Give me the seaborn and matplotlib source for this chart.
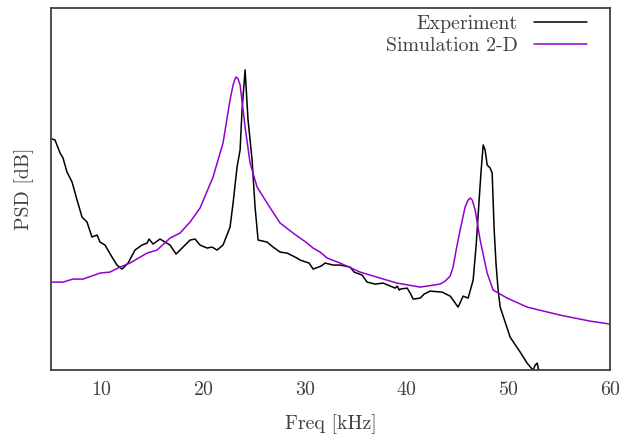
import numpy as np
import pandas as pd
import matplotlib
matplotlib.use("Agg")
import matplotlib.pyplot as plt
import seaborn as sns

# Experiment PSD (arbitrary dB)
exp_freq = [5.10, 5.39, 5.89, 6.18, 6.57, 7.07, 7.56, 8.05, 8.54, 9.03, 9.53, 9.82,
            10.31, 11.00, 11.49, 11.99, 12.58, 13.26, 13.95, 14.45, 14.64, 15.04,
            15.72, 16.71, 17.30, 17.99, 18.68, 19.17, 19.66, 20.35, 20.84, 21.33,
            21.92, 22.61, 22.91, 23.30, 23.60, 23.79, 24.09, 24.38, 24.78, 25.07,
            25.37, 26.25, 26.84, 27.53, 28.22, 29.20, 29.50, 30.39, 30.78, 31.57,
            31.96, 32.75, 33.44, 34.42, 34.81, 35.60, 36.09, 36.88, 37.67, 38.85,
            39.05, 39.25, 39.34, 40.03, 40.33, 40.62, 41.31, 41.70, 42.29, 43.47,
            44.26, 44.55, 45.04, 45.54, 46.03, 46.52, 46.82, 47.11, 47.31, 47.51,
            47.70, 47.90, 48.19, 48.39, 48.59, 48.78, 48.98, 49.18, 50.16, 51.15,
            51.83, 52.42, 52.62, 52.82, 53.01]
exp_psd = [-53.8, -54.0, -56.6, -57.6, -60.4, -62.4, -66.0, -69.4, -70.4, -73.4, -73.0, -74.4,
           -75.0, -77.4, -79.0, -79.8, -78.6, -76.0, -75.0, -74.6, -73.8, -74.8,
           -73.8, -75.0, -76.8, -75.4, -74.0, -73.8, -75.0, -75.6, -75.4, -76.0,
           -75.0, -71.4, -66.6, -59.4, -56.0, -48.0, -40.0, -50.0, -58.0, -67.4,
           -74.0, -74.4, -75.4, -76.4, -76.6, -77.6, -78.0, -78.6, -79.8, -79.2,
           -78.6, -79.0, -79.0, -79.4, -80.4, -81.0, -82.4, -82.8, -82.6, -83.6,
           -83.2, -84.0, -83.8, -83.6, -84.6, -85.8, -85.6, -84.8, -84.2, -84.4,
           -85.2, -86.0, -87.4, -85.2, -85.6, -82.0, -75.0, -66.0, -60.0, -55.0,
           -56.0, -59.0, -59.6, -60.6, -72.0, -79.0, -84.0, -87.4, -93.4, -96.4,
           -98.6, -100.0, -99.0, -98.6, -100.4]

# Simulation 2-D PSD
sim_freq = [5.00, 6.18, 7.16, 8.15, 9.82, 10.80, 11.79, 12.77, 14.45, 15.43, 16.71,
            17.69, 18.68, 19.66, 20.94, 21.92, 22.61, 22.91, 23.10, 23.20, 23.40,
            23.60, 24.09, 24.58, 25.27, 26.25, 27.53, 28.81, 30.19, 30.78, 31.47,
            32.16, 33.44, 35.40, 37.37, 39.04, 41.31, 43.27, 43.77, 44.26, 44.55,
            44.85, 45.24, 45.73, 46.03, 46.23, 46.43, 46.72, 47.21, 47.90, 48.49,
            49.87, 51.83, 55.08, 58.03, 60.00]
sim_psd = [-82.4, -82.4, -81.8, -81.8, -80.6, -80.4, -79.4, -78.6, -76.6, -76.0, -73.6,
           -72.6, -70.4, -67.6, -61.4, -54.6, -46.0, -43.0, -41.8, -41.4, -41.8,
           -43.0, -51.4, -58.6, -63.4, -66.6, -70.6, -72.6, -74.6, -75.6, -76.4,
           -77.6, -78.6, -80.4, -81.6, -82.6, -83.4, -82.8, -82.2, -81.2, -79.4,
           -76.0, -72.0, -67.4, -66.0, -65.6, -66.0, -68.0, -74.0, -80.6, -84.0,
           -85.6, -87.4, -89.0, -90.2, -90.8]

x_ticks = [10, 20, 30, 40, 50, 60]

exp_df = pd.DataFrame({"Freq": exp_freq, "PSD": exp_psd})
sim_df = pd.DataFrame({"Freq": sim_freq, "PSD": sim_psd})

sns.set_theme(style="white")
plt.rcParams["font.family"] = ["cmr10", "DejaVu Serif"]
plt.rcParams["axes.formatter.use_mathtext"] = True
text_color = "#404040"
fs = 14.3

fig = plt.figure(figsize=(6.22, 4.36), dpi=100)
ax = fig.add_axes([0.082, 0.151, 0.899, 0.831])

sns.lineplot(data=exp_df, x="Freq", y="PSD", color="black", linewidth=1.1,
             estimator=None, label="Experiment", ax=ax)
sns.lineplot(data=sim_df, x="Freq", y="PSD", color="#9400D3", linewidth=1.1,
             estimator=None, label="Simulation 2-D", ax=ax)

ax.set_xlim(5, 60)
ax.set_ylim(-100, -27.6)
ax.set_xticks(x_ticks)
ax.set_yticks([])
ax.tick_params(axis="x", direction="in", length=5, width=1.0, color=text_color,
               labelsize=fs, labelcolor=text_color, pad=8)
ax.set_xlabel("Freq [kHz]", fontsize=fs, color=text_color, labelpad=11)
ax.set_ylabel("PSD [dB]", fontsize=fs, color=text_color, labelpad=12)

for s in ax.spines.values():
    s.set_color(text_color)
    s.set_linewidth(1.3)

leg = ax.legend(loc="upper right", bbox_to_anchor=(0.973, 1.003), frameon=False,
                markerfirst=False, fontsize=fs, handlelength=2.7, handletextpad=0.8,
                labelspacing=0.2, borderaxespad=0)
for t in leg.get_texts():
    t.set_color(text_color)

plt.savefig("out.png", dpi=100)
